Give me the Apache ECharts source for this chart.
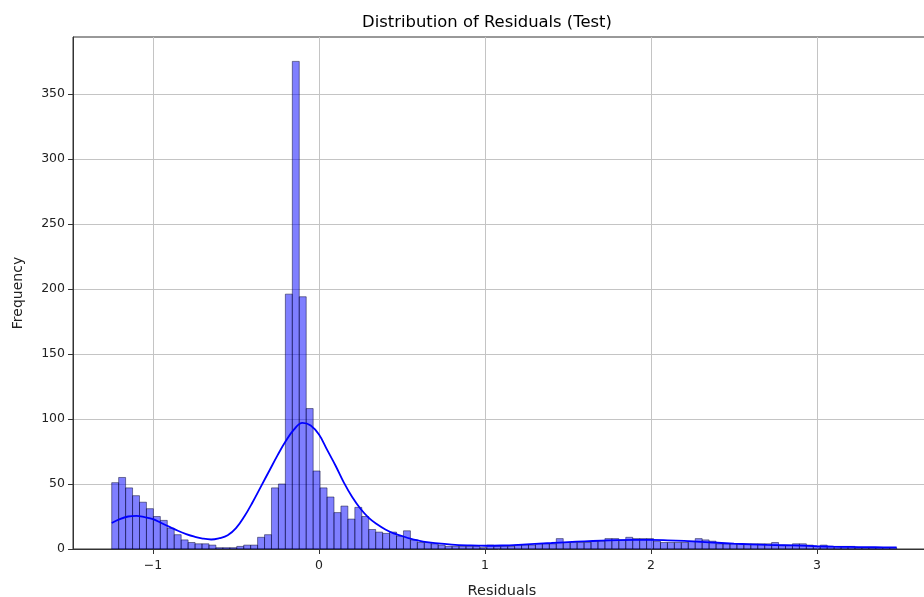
<!DOCTYPE html>
<html><head><meta charset="utf-8">
<script src="https://cdn.jsdelivr.net/npm/echarts@6/dist/echarts.min.js"></script>
<style>html,body{margin:0;padding:0;background:#fff}#c{width:924px;height:597px}</style>
</head><body><div id="c"></div>
<script>
// Histogram bins (edges start and width, in residual units)
const binStart = -1.2488;
const binWidth = 0.041849;
const counts = [
  51,55,47,41,36,31,25,22,16,11,
  7,5,4,4,3,1,1,1,2,3,
  3,9,11,47,50,196,375,194,108,60,
  47,40,28,33,23,32,25,15,13,12,
  13,10,14,7,5,5,4,3,2,2,
  2,2,2,1,3,2,2,2,3,3,
  3,4,4,4,8,5,5,5,5,6,
  6,8,8,7,9,8,8,8,6,5,
  5,5,5,6,8,7,6,4,4,4,
  4,4,4,4,4,5,3,3,4,4,
  3,2,3,2,2,2,2,1,1,1,
  1,1,1
];
// KDE curve
const kdeX = [-1.2488,-1.2,-1.15,-1.1,-1.05,-1.0,-0.95,-0.9,-0.85,-0.8,-0.75,-0.7,-0.65,-0.6,-0.55,-0.5,-0.45,-0.4,-0.35,-0.3,-0.25,-0.2,-0.15,-0.1,-0.05,0.0,0.05,0.1,0.15,0.2,0.25,0.3,0.35,0.4,0.45,0.5,0.55,0.6,0.65,0.7,0.8,0.9,1.0,1.1,1.2,1.3,1.4,1.5,1.6,1.7,1.8,1.9,2.0,2.1,2.2,2.3,2.4,2.5,2.6,2.7,2.8,2.9,3.0,3.1,3.2,3.3,3.4,3.48];
const kdeY = [20,23,25,25.5,24.5,23,20,17,14,11.5,9.5,8,7.3,8.3,10.5,16,25,36,48,60,72,83,92,97,95,88,76,64,51,40,31,24,19,15,12,10,8,6.5,5.3,4.5,3.4,2.8,2.5,2.7,3.2,3.9,4.6,5.3,5.9,6.4,6.8,7.0,7.0,6.7,6.2,5.5,4.8,4.1,3.6,3.2,2.9,2.6,2.1,1.8,1.6,1.4,1.3,1.2];
const xTicks = [-1,0,1,2,3];
const yTicks = [0,50,100,150,200,250,300,350];

const histData = counts.map((c,i)=>[binStart+i*binWidth, binStart+(i+1)*binWidth, c]);
const kdeData = kdeX.map((x,i)=>[x,kdeY[i]]);

const chart = echarts.init(document.getElementById('c'), null, {renderer:'canvas'});
const fam = 'DejaVu Sans';
chart.setOption({
  animation:false,
  backgroundColor:'#fff',
  title:{text:'Distribution of Residuals (Test)', left:482, top:10, textAlign:'center',
    textStyle:{fontFamily:fam, fontSize:16.4, fontWeight:'normal', color:'#000'}},
  grid:{left:73, top:37, width:858, height:512, outerBoundsMode:'none', containLabel:false,
    show:true, borderColor:'#333', borderWidth:1, backgroundColor:'transparent'},
  xAxis:{type:'value', min:-1.482, max:3.687,
    name:'Residuals', nameLocation:'middle', nameGap:35,
    nameTextStyle:{fontFamily:fam, fontSize:14.5, color:'#222'},
    axisLine:{show:true, onZero:false, lineStyle:{color:'#333', width:1}},
    axisTick:{show:true, length:5, customValues:xTicks, lineStyle:{color:'#333'}},
    axisLabel:{customValues:xTicks, fontFamily:fam, fontSize:12.5, color:'#222', margin:10,
      formatter:v=> v<0 ? '\u2212'+Math.abs(v) : String(v)},
    splitLine:{show:true, lineStyle:{color:'#c4c4c4', width:1}}
  },
  yAxis:{type:'value', min:0, max:393.75,
    name:'Frequency', nameLocation:'middle', nameGap:48, nameRotate:90,
    nameTextStyle:{fontFamily:fam, fontSize:14, color:'#222'},
    axisLine:{show:true, onZero:false, lineStyle:{color:'#333', width:1}},
    axisTick:{show:true, length:5, customValues:yTicks, lineStyle:{color:'#333'}},
    axisLabel:{customValues:yTicks, fontFamily:fam, fontSize:12.5, color:'#222', margin:8},
    splitLine:{show:true, lineStyle:{color:'#c4c4c4', width:1}}
  },
  series:[
    {type:'custom', data:histData, clip:true, z:2,
     renderItem:(params, api)=>{
       const p0 = api.coord([api.value(0), api.value(2)]);
       const p1 = api.coord([api.value(1), 0]);
       return {type:'rect', shape:{x:p0[0], y:p0[1], width:p1[0]-p0[0], height:p1[1]-p0[1]},
         style:{fill:'rgba(0,0,255,0.5)', stroke:'rgba(0,0,40,0.6)', lineWidth:0.8}};
     }},
    {type:'line', data:kdeData, smooth:0.4, showSymbol:false, z:3,
     lineStyle:{color:'#0000ff', width:1.8}}
  ]
});
</script></body></html>
